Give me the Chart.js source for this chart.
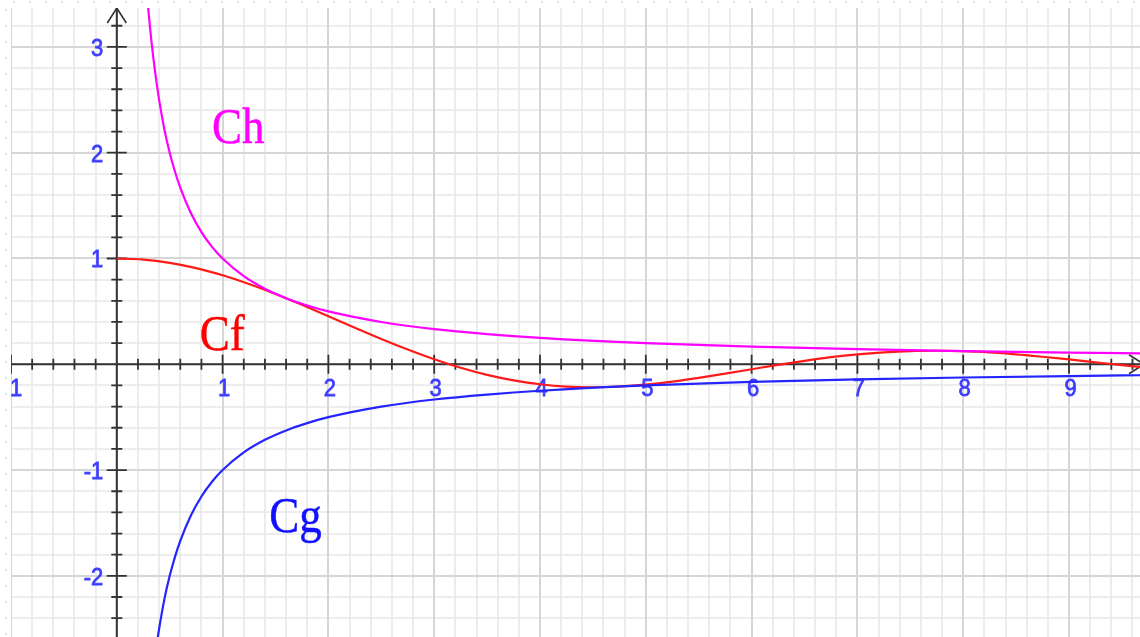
<!DOCTYPE html>
<html>
<head>
<meta charset="utf-8">
<script src="https://cdn.jsdelivr.net/npm/chart.js@4.4.1/dist/chart.umd.min.js"></script>
<style>
  html, body { margin: 0; padding: 0; background: #ffffff; }
  #wrap { width: 1140px; height: 637px; position: relative; overflow: hidden; }
  canvas { display: block; }
</style>
</head>
<body>
<div id="wrap"><canvas id="c" width="1140" height="637"></canvas></div>
<script>
// ---- data ----
const cfX = [0, 0.25, 0.5, 0.75, 1.0, 1.25, 1.5, 1.75, 2.0, 2.25, 2.5, 2.75, 3.0, 3.25, 3.5, 3.75, 4.0, 4.25, 4.5, 4.75, 5.0, 5.25, 5.5, 5.75, 6.0, 6.25, 6.5, 6.75, 7.0, 7.25, 7.5, 7.75, 8.0, 8.25, 8.5, 8.75, 9.0, 9.25, 9.5, 9.75];
const cfY = [1.0, 0.99, 0.959, 0.909, 0.841, 0.759, 0.665, 0.562, 0.455, 0.346, 0.239, 0.139, 0.047, -0.033, -0.100, -0.152, -0.189, -0.211, -0.217, -0.210, -0.192, -0.164, -0.128, -0.089, -0.047, -0.005, 0.033, 0.067, 0.094, 0.113, 0.125, 0.128, 0.124, 0.112, 0.094, 0.071, 0.046, 0.019, -0.008, -0.033];

const chX = [0.28, 0.3, 0.33, 0.36, 0.4, 0.45, 0.5, 0.55, 0.6, 0.7, 0.8, 0.9, 1.0, 1.2, 1.4, 1.6, 1.8, 2.0, 2.5, 3.0, 3.5, 4.0, 5.0, 6.0, 7.0, 8.0, 9.0, 9.75];
const chY = [3.57, 3.33, 3.03, 2.78, 2.5, 2.22, 2.0, 1.82, 1.67, 1.43, 1.25, 1.11, 1.0, 0.833, 0.714, 0.625, 0.556, 0.5, 0.4, 0.333, 0.286, 0.25, 0.2, 0.167, 0.143, 0.125, 0.111, 0.103];

const cgX = [0.38, 0.4, 0.45, 0.5, 0.55, 0.6, 0.7, 0.8, 0.9, 1.0, 1.2, 1.4, 1.6, 1.8, 2.0, 2.5, 3.0, 3.5, 4.0, 5.0, 6.0, 7.0, 8.0, 9.0, 9.75];
const cgY = [-2.63, -2.5, -2.22, -2.0, -1.82, -1.67, -1.43, -1.25, -1.11, -1.0, -0.833, -0.714, -0.625, -0.556, -0.5, -0.4, -0.333, -0.286, -0.25, -0.2, -0.167, -0.143, -0.125, -0.111, -0.103];

const xTickValues = [-1, 1, 2, 3, 4, 5, 6, 7, 8, 9];
const xTickLabels = ["-1", "1", "2", "3", "4", "5", "6", "7", "8", "9"];
const yTickValues = [3, 2, 1, -1, -2];
const yTickLabels = ["3", "2", "1", "-1", "-2"];

const curveNames = ["Ch", "Cf", "Cg"];
const curveNameX = [0.9, 0.785, 1.44];
const curveNameY = [2.092, 0.135, -1.585];

const xMin = -1, xMax = 9.671, yMin = -2.578, yMax = 3.368;

// ---- helpers ----
function pts(xs, ys) { return xs.map((x, i) => ({ x: x, y: ys[i] })); }

function stretchedText(ctx, txt, x, y, font, color, align, baseline, sy, sw) {
  ctx.save();
  ctx.translate(x, y);
  ctx.scale(1, sy);
  ctx.font = font;
  ctx.fillStyle = color;
  ctx.textAlign = align;
  ctx.textBaseline = baseline;
  ctx.fillText(txt, 0, 0);
  if (sw) {
    ctx.strokeStyle = color;
    ctx.lineWidth = sw;
    ctx.strokeText(txt, 0, 0);
  }
  ctx.restore();
}

const backdrop = {
  id: 'backdrop',
  beforeDraw(chart) {
    const ctx = chart.ctx;
    ctx.save();
    ctx.strokeStyle = '#c6ebf7';
    ctx.lineWidth = 2;
    ctx.setLineDash([2, 14]);
    ctx.beginPath();
    ctx.moveTo(13, 2); ctx.lineTo(1140, 2);
    ctx.moveTo(6, 9); ctx.lineTo(6, 637);
    ctx.stroke();
    ctx.restore();
  },
  beforeDatasetsDraw(chart) {
    const ctx = chart.ctx;
    const xs = chart.scales.x, ys = chart.scales.y;
    const a = chart.chartArea;
    ctx.save();
    ctx.beginPath();
    ctx.rect(a.left, a.top, a.right - a.left, a.bottom - a.top);
    ctx.clip();
    // minor grid
    ctx.lineWidth = 1.6;
    ctx.strokeStyle = '#e8e8e8';
    ctx.beginPath();
    for (let i = -5; i <= 50; i++) {
      if (i % 5 === 0) continue;
      const px = Math.round(xs.getPixelForValue(i / 5));
      ctx.moveTo(px, a.top); ctx.lineTo(px, a.bottom);
    }
    for (let j = -15; j <= 17; j++) {
      if (j % 5 === 0) continue;
      const py = Math.round(ys.getPixelForValue(j / 5));
      ctx.moveTo(a.left, py); ctx.lineTo(a.right, py);
    }
    ctx.stroke();
    // major grid
    ctx.lineWidth = 2;
    ctx.strokeStyle = '#d6d6d6';
    ctx.beginPath();
    for (let i = -1; i <= 10; i++) {
      const px = Math.round(xs.getPixelForValue(i));
      ctx.moveTo(px, a.top); ctx.lineTo(px, a.bottom);
    }
    for (let j = -3; j <= 3; j++) {
      const py = Math.round(ys.getPixelForValue(j));
      ctx.moveTo(a.left, py); ctx.lineTo(a.right, py);
    }
    ctx.stroke();

    const ox = xs.getPixelForValue(0), oy = ys.getPixelForValue(0);
    // axes
    ctx.strokeStyle = '#333333';
    ctx.lineWidth = 2;
    ctx.beginPath();
    ctx.moveTo(a.left, oy); ctx.lineTo(1140, oy);
    ctx.moveTo(ox, a.top); ctx.lineTo(ox, a.bottom);
    ctx.stroke();
    // ticks
    ctx.lineWidth = 1.8;
    ctx.beginPath();
    for (let i = -5; i <= 48; i++) {
      if (i === 0) continue;
      const px = xs.getPixelForValue(i / 5);
      const len = (i % 5 === 0) ? 9.5 : 5.5;
      ctx.moveTo(px, oy - len); ctx.lineTo(px, oy + len);
    }
    for (let j = -12; j <= 16; j++) {
      if (j === 0) continue;
      const py = ys.getPixelForValue(j / 5);
      const len = (j % 5 === 0) ? 10 : 5.5;
      ctx.moveTo(ox - len, py); ctx.lineTo(ox + len, py);
    }
    ctx.stroke();
    // arrows
    ctx.lineWidth = 1.6;
    ctx.beginPath();
    ctx.moveTo(ox - 9.5, a.top + 15); ctx.lineTo(ox, a.top); ctx.lineTo(ox + 9.5, a.top + 15);
    ctx.moveTo(1129, oy - 9.5); ctx.lineTo(1144, oy); ctx.lineTo(1129, oy + 9.5);
    ctx.stroke();

    // tick labels
    const lf = '22px "Liberation Sans", Arial, sans-serif';
    const lc = '#3c3cff';
    xTickValues.forEach((v, k) => {
      stretchedText(ctx, xTickLabels[k], xs.getPixelForValue(v) + 1.5, oy + 25, lf, lc, 'center', 'middle', 1.12, 0.7);
    });
    yTickValues.forEach((v, k) => {
      stretchedText(ctx, yTickLabels[k], ox - 13.5, ys.getPixelForValue(v) + 2, lf, lc, 'right', 'middle', 1.12, 0.7);
    });

    // curve names
    const nf = '45px "Liberation Serif", "Times New Roman", serif';
    const colors = ['#ff00ff', '#ff0000', '#1010ff'];
    curveNames.forEach((n, k) => {
      stretchedText(ctx, n, xs.getPixelForValue(curveNameX[k]), ys.getPixelForValue(curveNameY[k]), nf, colors[k], 'left', 'alphabetic', 1.12, 0.4);
    });
    ctx.restore();
  }
};

new Chart(document.getElementById('c'), {
  type: 'scatter',
  data: {
    datasets: [
      { label: 'Ch', data: pts(chX, chY), showLine: true, borderColor: '#ff00ff', borderWidth: 2.2, pointRadius: 0, cubicInterpolationMode: 'monotone' },
      { label: 'Cg', data: pts(cgX, cgY), showLine: true, borderColor: '#2424ff', borderWidth: 2.2, pointRadius: 0, cubicInterpolationMode: 'monotone' },
      { label: 'Cf', data: pts(cfX, cfY), showLine: true, borderColor: '#ff1a1a', borderWidth: 2.2, pointRadius: 0, cubicInterpolationMode: 'monotone' }
    ]
  },
  options: {
    responsive: false,
    animation: false,
    devicePixelRatio: 1,
    layout: { padding: { left: 11, top: 8, right: 0, bottom: 0 } },
    scales: {
      x: { type: 'linear', min: xMin, max: xMax, display: false },
      y: { type: 'linear', min: yMin, max: yMax, display: false }
    },
    plugins: { legend: { display: false }, tooltip: { enabled: false } },
    events: []
  },
  plugins: [backdrop]
});
</script>
</body>
</html>
